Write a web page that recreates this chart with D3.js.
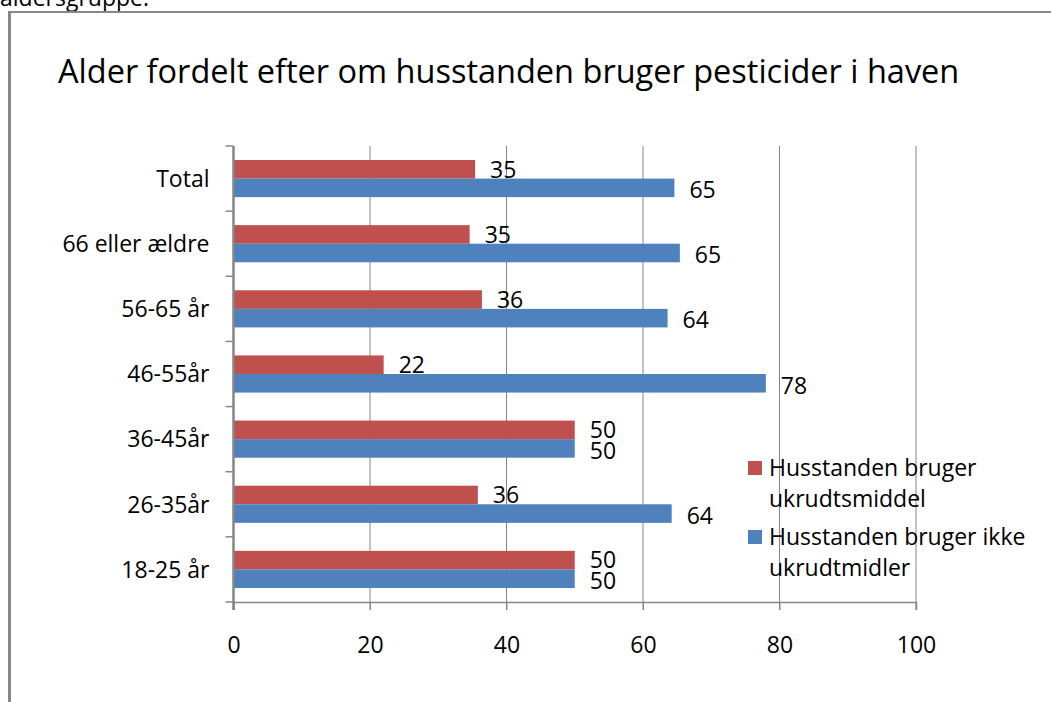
<!DOCTYPE html>
<html>
<head>
<meta charset="utf-8">
<script src="https://cdn.jsdelivr.net/npm/d3@7"></script>
<style>
  body { margin: 0; background: #fff; }
  text { font-family: "Open Sans", sans-serif; fill: #000; }
</style>
</head>
<body>
<div id="chart"></div>
<script>
// categories listed bottom to top like in the excel sheet
const categories = ["18-25 år", "26-35år", "36-45år", "46-55år", "56-65 år", "66 eller ældre", "Total"];
const usesWeedKiller = [50, 35.8, 50, 22, 36.4, 34.6, 35.4];
const noWeedKiller = [50, 64.2, 50, 78, 63.6, 65.4, 64.6];
const seriesNames = ["Husstanden bruger ukrudtsmiddel", "Husstanden bruger ikke ukrudtmidler"];
const xTicks = [0, 20, 40, 60, 80, 100];

const COLORS = ["#c0504d", "#4f81bd"];
const GRID = "#868686";
const FS = 23;

const width = 1051, height = 702;
const plot = { left: 233.5, right: 916, top: 146, bottom: 602 };

const svg = d3.select("#chart").append("svg")
    .attr("width", width)
    .attr("height", height);

// leftover text from the document above the chart
svg.append("text")
    .attr("x", 0)
    .attr("y", 6)
    .attr("font-size", FS)
    .text("aldersgruppe.");

// chart frame (only top + left show in the crop)
svg.append("line")
    .attr("x1", 9.5).attr("x2", width)
    .attr("y1", 12).attr("y2", 12)
    .attr("stroke", "#888").attr("stroke-width", 2);
svg.append("line")
    .attr("x1", 9.5).attr("x2", 9.5)
    .attr("y1", 11).attr("y2", height)
    .attr("stroke", "#888").attr("stroke-width", 3);

svg.append("text")
    .attr("x", 58)
    .attr("y", 83)
    .attr("font-size", 32.5)
    .text("Alder fordelt efter om husstanden bruger pesticider i haven");

let x = d3.scaleLinear()
    .domain([0, 100])
    .range([plot.left, plot.right]);

let y = d3.scaleBand()
    .domain(categories.slice().reverse())
    .range([plot.top, plot.bottom])
    .paddingInner(0.43)
    .paddingOuter(0.215);

let sub = d3.scaleBand()
    .domain([0, 1])
    .range([0, y.bandwidth()]);

// gridlines
svg.append("g")
    .selectAll("line")
    .data(xTicks.filter(d => d > 0))
    .enter()
    .append("line")
    .attr("x1", d => x(d)).attr("x2", d => x(d))
    .attr("y1", plot.top).attr("y2", plot.bottom + 8)
    .attr("stroke", GRID).attr("stroke-width", 1);

// x axis
let xAxis = svg.append("g")
    .attr("transform", "translate(0," + plot.bottom + ")")
    .call(d3.axisBottom(x).tickValues(xTicks).tickSize(8).tickPadding(27));
xAxis.select(".domain").attr("stroke", GRID).attr("stroke-width", 1.5);
xAxis.selectAll(".tick line").attr("stroke", GRID).attr("stroke-width", 1);
xAxis.selectAll("text")
    .attr("font-size", FS)
    .attr("font-family", "Open Sans, sans-serif")
    .attr("fill", "#000");

// bars
let rows = categories.map((c, i) => ({ cat: c, vals: [usesWeedKiller[i], noWeedKiller[i]] }));

let groups = svg.append("g")
    .selectAll("g")
    .data(rows)
    .enter()
    .append("g")
    .attr("transform", d => "translate(0," + y(d.cat) + ")");

groups.selectAll("rect")
    .data(d => d.vals.map((v, s) => ({ v: v, s: s })))
    .enter()
    .append("rect")
    .attr("x", x(0))
    .attr("y", d => sub(d.s))
    .attr("width", d => x(d.v) - x(0))
    .attr("height", sub.bandwidth())
    .attr("fill", d => COLORS[d.s]);

groups.selectAll(".lbl")
    .data(d => d.vals.map((v, s) => ({ v: v, s: s })))
    .enter()
    .append("text")
    .attr("class", "lbl")
    .attr("x", d => x(d.v) + 15)
    .attr("y", d => sub(d.s) + sub.bandwidth() / 2 + (d.s === 1 ? 2 : 0))
    .attr("dy", "0.36em")
    .attr("font-size", FS)
    .text(d => d3.format(".0f")(d.v));

// y axis (drawn after the bars so it sits on top)
let step = y.step();
let yAxisG = svg.append("g");
yAxisG.append("line")
    .attr("x1", x(0)).attr("x2", x(0))
    .attr("y1", plot.top).attr("y2", plot.bottom + 8)
    .attr("stroke", GRID).attr("stroke-width", 2.5);
yAxisG.selectAll(".ytick")
    .data(d3.range(categories.length + 1))
    .enter()
    .append("line")
    .attr("class", "ytick")
    .attr("x1", x(0) - 8).attr("x2", x(0))
    .attr("y1", i => plot.top + i * step)
    .attr("y2", i => plot.top + i * step)
    .attr("stroke", GRID).attr("stroke-width", 1.5);
yAxisG.selectAll(".ylbl")
    .data(categories)
    .enter()
    .append("text")
    .attr("class", "ylbl")
    .attr("x", x(0) - 24)
    .attr("y", d => y(d) + y.bandwidth() / 2)
    .attr("dy", "0.36em")
    .attr("text-anchor", "end")
    .attr("font-size", FS)
    .text(d => d);

// legend, no background box
let legendLines = [
    ["Husstanden bruger", "ukrudtsmiddel"],
    ["Husstanden bruger ikke", "ukrudtmidler"]
];
let legend = svg.append("g").attr("transform", "translate(748,468)");
legendLines.forEach((lines, i) => {
    let g = legend.append("g").attr("transform", "translate(0," + i * 69 + ")");
    g.append("rect")
        .attr("x", 0).attr("y", -7)
        .attr("width", 14).attr("height", 14)
        .attr("fill", COLORS[i]);
    lines.forEach((t, j) => {
        g.append("text")
            .attr("x", 21)
            .attr("y", j * 31)
            .attr("dy", "0.36em")
            .attr("font-size", FS)
            .text(t);
    });
});
</script>
</body>
</html>
